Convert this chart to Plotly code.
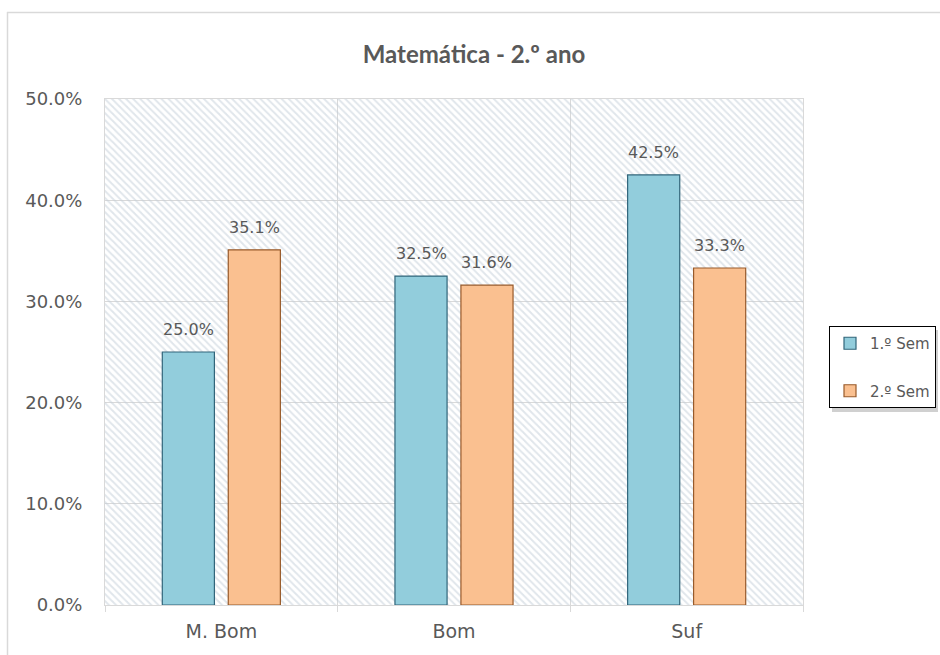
import plotly.graph_objects as go

# Data
categories = ["M. Bom", "Bom", "Suf"]
sem1 = [0.250, 0.325, 0.425]
sem2 = [0.351, 0.316, 0.333]
series_names = ["1.º Sem", "2.º Sem"]

W, H = 940, 655
L, R, T, B = 105, 137, 99, 50
PW, PH = W - L - R, H - T - B
BARGAP, GROUPGAP = 0.433, 0.21

def px_x(v):
    return (v - L) / PW

def px_y(v):
    return (H - B - v) / PH

GREY_TXT = "#595959"
GRID = "#d9d9d9"
LABEL_FONT = "DejaVu Sans"

fig = go.Figure()

# hatched plot-area background
fig.add_trace(go.Bar(
    x=[0.5], y=[0.5], width=[1.0], xaxis="x", yaxis="y",
    marker=dict(color="rgba(0,0,0,0)", line=dict(width=0),
                pattern=dict(shape="\\", fgcolor="#c2cdd8", bgcolor="rgba(255,255,255,0)",
                             size=5, solidity=0.4)),
    showlegend=False, hoverinfo="skip",
))

fills = ["#92cddc", "#fac090"]
edges = ["#31657a", "#985a2a"]
all_series = [sem1, sem2]
for name, vals, fc, ec in zip(series_names, all_series, fills, edges):
    fig.add_trace(go.Bar(
        x=categories, y=vals, name=name, xaxis="x2", yaxis="y",
        marker=dict(color=fc, line=dict(color=ec, width=1.2)),
        cliponaxis=False, legendgroup=name,
    ))

# value labels above each bar (bar centre = category index +/- a quarter of the group width)
annotations = []
half = (1 - BARGAP) / 4
for k, vals in enumerate(all_series):
    off = -half if k == 0 else half
    for i, v in enumerate(vals):
        annotations.append(dict(
            x=i + off, y=v, xref="x2", yref="y", text=f"{v:.1%}",
            showarrow=False, yanchor="bottom", yshift=11,
            font=dict(family=LABEL_FONT, size=16, color=GREY_TXT),
        ))

# chart frame (top and left edges) and legend shadow
shapes = [
    dict(type="line", xref="paper", yref="paper", x0=px_x(7), x1=px_x(945),
         y0=px_y(12.5), y1=px_y(12.5), line=dict(color=GRID, width=1.5)),
    dict(type="line", xref="paper", yref="paper", x0=px_x(7.5), x1=px_x(7.5),
         y0=px_y(12), y1=px_y(660), line=dict(color=GRID, width=1.5)),
    dict(type="rect", xref="paper", yref="paper", x0=px_x(832), x1=px_x(938),
         y0=px_y(412), y1=px_y(330), line=dict(width=0), fillcolor="rgba(120,120,120,0.35)"),
]

fig.update_layout(
    width=W, height=H,
    margin=dict(l=L, r=R, t=T, b=B, autoexpand=False),
    paper_bgcolor="white", plot_bgcolor="white",
    barmode="group", bargap=BARGAP, bargroupgap=GROUPGAP,
    title=dict(text="Matemática - 2.º ano", x=(L + PW / 2 + 20) / W, xanchor="center",
               y=1 - 55 / H, yanchor="middle",
               font=dict(family="Lato", size=24, color=GREY_TXT, weight="bold")),
    xaxis=dict(range=[0, 1], visible=False, fixedrange=True),
    xaxis2=dict(type="category", overlaying="x", anchor="y", side="bottom",
                range=[-0.5, 2.5],
                tickson="boundaries", showgrid=True, gridcolor=GRID,
                ticks="outside", ticklen=6, tickcolor=GRID,
                showline=True, linecolor=GRID, mirror=True,
                tickfont=dict(family=LABEL_FONT, size=19, color=GREY_TXT),
                ticklabelstandoff=9),
    yaxis=dict(range=[0, 0.5], dtick=0.1, tickformat=".1%",
               showgrid=True, gridcolor=GRID, zeroline=False,
               showline=True, linecolor=GRID, mirror=True,
               tickfont=dict(family=LABEL_FONT, size=18, color=GREY_TXT),
               ticks="", ticklabelstandoff=18),
    legend=dict(x=px_x(829), y=px_y(326), xanchor="left", yanchor="top",
                bgcolor="white", bordercolor="black", borderwidth=1,
                font=dict(family=LABEL_FONT, size=15, color=GREY_TXT),
                tracegroupgap=25, traceorder="grouped", itemwidth=30),
    annotations=annotations,
    shapes=shapes,
    showlegend=True,
)

fig.write_html("out.html")
